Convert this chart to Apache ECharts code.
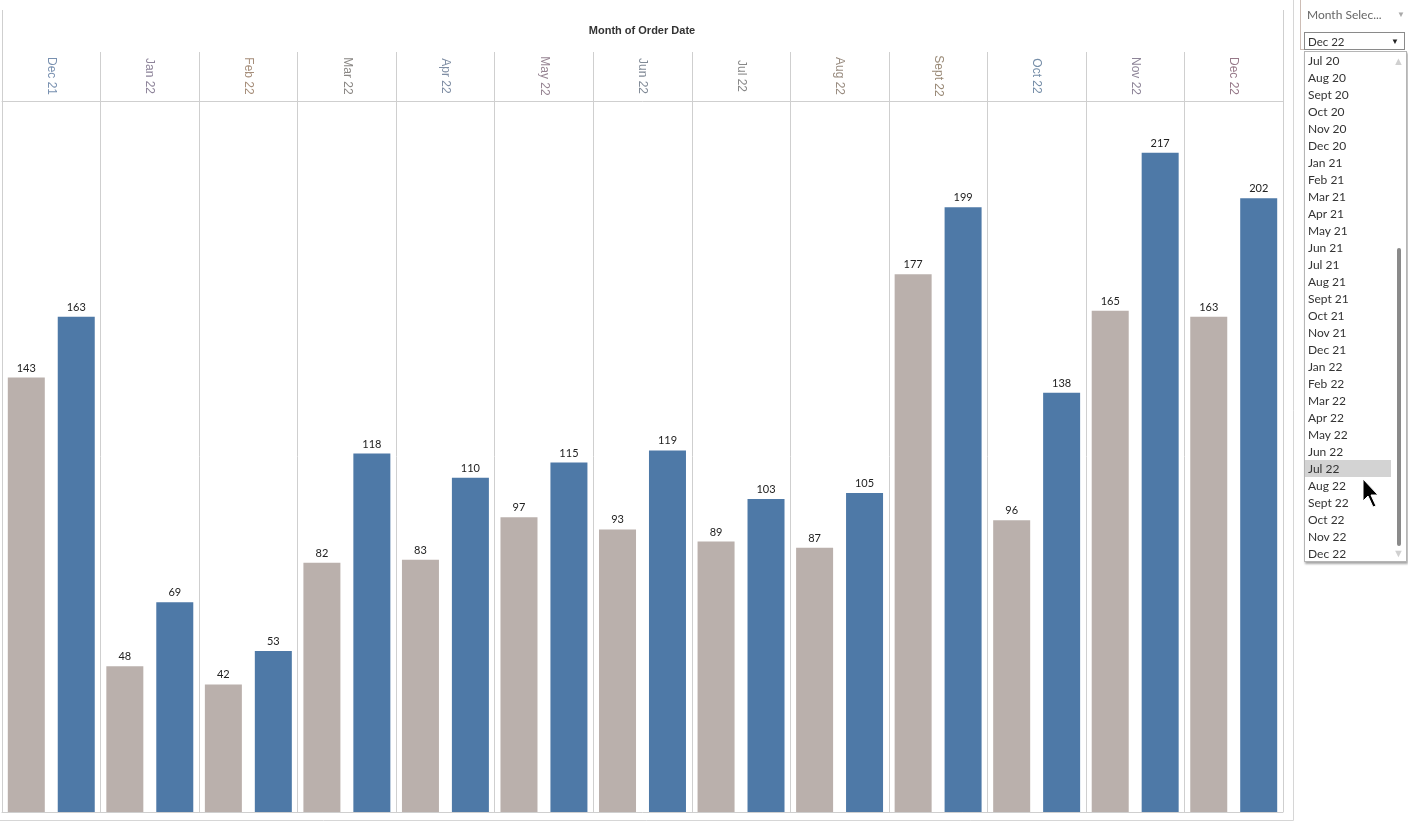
<!DOCTYPE html>
<html>
<head>
<meta charset="utf-8">
<script src="https://cdn.jsdelivr.net/npm/echarts@6/dist/echarts.min.js"></script>
<style>
  html, body { margin: 0; padding: 0; background: #fff; }
  #chart { position: absolute; left: 0; top: 0; width: 1408px; height: 822px; }
  .panel { position: absolute; font-family: "Lato", "Noto Sans", sans-serif; font-size: 12px; color: #333; }
  #filterTitle { left: 1307px; top: 7px; color: #666; }
  #filterArrow { left: 1397px; top: 9px; color: #aaa; font-size: 8px; }
  #filterBox { left: 1304px; top: 32px; width: 101px; height: 18px; border: 1px solid #8a8a8a; box-sizing: border-box; background: #fff; }
  #filterBox span.v { position: absolute; left: 3px; top: 2px; font-size: 11.5px; }
  #filterBox span.a { position: absolute; right: 5px; top: 3px; font-size: 8px; color: #222; }
  #list { left: 1304px; top: 51px; width: 103px; height: 511px; border: 1px solid #b5b5b5; box-sizing: border-box; background: #fff; box-shadow: 1px 2px 2px rgba(0,0,0,0.35); overflow: hidden; }
  #list .it { position: absolute; left: 0px; width: 86px; height: 17px; line-height: 17px; padding-left: 3px; box-sizing: border-box; white-space: nowrap; }
  #list .sel { background: #d3d3d3; }
  #thumb { position: absolute; left: 92px; top: 196px; width: 4px; height: 298px; background: #8a8a8a; border-radius: 2px; }
  #upA { position: absolute; left: 88px; top: 2px; font-size: 11px; color: #d0d0d0; }
  #dnA { position: absolute; left: 88px; top: 494px; font-size: 11px; color: #d0d0d0; }
  #panelLine { position: absolute; left: 1300px; top: 0; width: 4px; height: 50px; border-left: 1px solid #cdbdb5; border-bottom: 1px solid #cdbdb5; box-sizing: border-box; }
  #cursor { position: absolute; left: 1362px; top: 478px; }
</style>
</head>
<body>
<div id="chart"></div>
<div id="panelLine"></div>
<div class="panel" id="filterTitle">Month Selec...</div>
<div class="panel" id="filterArrow">&#9660;</div>
<div class="panel" id="filterBox"><span class="v" id="selVal"></span><span class="a">&#9660;</span></div>
<div class="panel" id="list"><div id="thumb"></div><div id="upA">&#9650;</div><div id="dnA">&#9660;</div></div>
<svg id="cursor" width="20" height="32" viewBox="0 0 20 32">
  <polygon points="1,1 1,23 6,18 11,29 14,28 9,17 16,17" fill="#000" stroke="#fff" stroke-width="1"/>
</svg>
<script>
// ---------- data ----------
const months = ["Dec 21","Jan 22","Feb 22","Mar 22","Apr 22","May 22","Jun 22","Jul 22","Aug 22","Sept 22","Oct 22","Nov 22","Dec 22"];
const greyValues = [143, 48, 42, 82, 83, 97, 93, 89, 87, 177, 96, 165, 163];
const blueValues = [163, 69, 53, 118, 110, 115, 119, 103, 105, 199, 138, 217, 202];
const filterMonths = ["Jul 20","Aug 20","Sept 20","Oct 20","Nov 20","Dec 20","Jan 21","Feb 21","Mar 21","Apr 21","May 21","Jun 21","Jul 21","Aug 21","Sept 21","Oct 21","Nov 21","Dec 21","Jan 22","Feb 22","Mar 22","Apr 22","May 22","Jun 22","Jul 22","Aug 22","Sept 22","Oct 22","Nov 22","Dec 22"];
const selectedMonth = "Dec 22";
const hoveredMonth = "Jul 22";
const headerTitle = "Month of Order Date";

// ---------- styles ----------
const labelColors = ["#7890b0","#8e849a","#a68e7a","#8a8784","#7f8ea4","#978593","#818a96","#888888","#998c80","#998976","#768ea8","#8e8598","#967888"];
const gridLine = "#cfcfcf";

// ---------- filter list ----------
document.getElementById('selVal').textContent = selectedMonth;
const list = document.getElementById('list');
filterMonths.forEach((m, i) => {
  const d = document.createElement('div');
  d.className = 'it' + (m === hoveredMonth ? ' sel' : '');
  d.style.top = (0 + i * 17) + 'px';
  d.textContent = m;
  list.appendChild(d);
});

// ---------- chart ----------
const chart = echarts.init(document.getElementById('chart'));
const labelStyle = { show: true, position: 'top', distance: 4, color: '#222', fontSize: 11, fontFamily: 'Lato, "Noto Sans", sans-serif' };
chart.setOption({
  animation: false,
  grid: { left: 2, right: 125, top: 101, bottom: 10, containLabel: false },
  xAxis: [
    {
      type: 'category', data: months, position: 'bottom',
      axisLine: { show: true, lineStyle: { color: gridLine } },
      axisTick: { show: false }, axisLabel: { show: false },
      splitLine: { show: true, interval: 0, lineStyle: { color: gridLine, width: 1 } }
    },
    {
      type: 'category', data: months, position: 'top',
      axisLine: { show: true, lineStyle: { color: gridLine } },
      axisTick: { show: true, interval: 0, length: 49, lineStyle: { color: gridLine } },
      axisLabel: {
        show: true, interval: 0, rotate: 90, margin: 25, align: 'center', verticalAlign: 'middle',
        fontSize: 12, fontFamily: '"Liberation Sans", Arial, sans-serif',
        color: (v, i) => labelColors[i % labelColors.length]
      },
      splitLine: { show: false }
    }
  ],
  yAxis: { type: 'value', min: 0, max: 234, show: false, splitLine: { show: false } },
  series: [
    { type: 'bar', name: 'Previous', xAxisIndex: 0, data: greyValues, barWidth: 37, barGap: '35%', itemStyle: { color: '#bab0ac' }, label: labelStyle },
    { type: 'bar', name: 'Current', xAxisIndex: 0, data: blueValues, barWidth: 37, barGap: '35%', itemStyle: { color: '#4e79a7' }, label: labelStyle }
  ],
  graphic: [
    { type: 'text', x: 642, y: 31, style: { text: headerTitle, textAlign: 'center', textVerticalAlign: 'middle', fill: '#333', font: 'bold 11px "Liberation Sans", Arial, sans-serif' } },
    { type: 'line', shape: { x1: 2.5, y1: 10, x2: 2.5, y2: 812 }, style: { stroke: gridLine, lineWidth: 1 } },
    { type: 'line', shape: { x1: 1283.5, y1: 10, x2: 1283.5, y2: 812 }, style: { stroke: gridLine, lineWidth: 1 } },
    { type: 'line', shape: { x1: 1293.5, y1: 0, x2: 1293.5, y2: 820.5 }, style: { stroke: '#d6d6d6', lineWidth: 1 } },
    { type: 'line', shape: { x1: 0, y1: 820.5, x2: 1293.5, y2: 820.5 }, style: { stroke: '#d6d6d6', lineWidth: 1 } }
  ]
});
</script>
</body>
</html>
